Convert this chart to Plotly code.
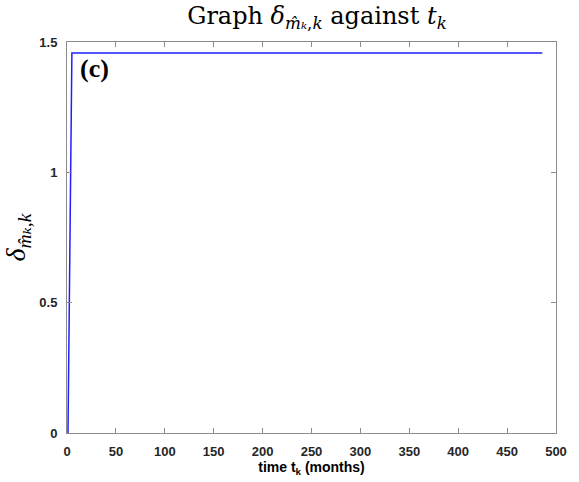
import plotly.graph_objects as go

# data
t_k = [1, 5, 486]
delta = [0.0, 1.458, 1.458]
x_ticks = [0, 50, 100, 150, 200, 250, 300, 350, 400, 450, 500]
y_ticks = [0, 0.5, 1, 1.5]
y_tick_labels = ["0", "0.5", "1", "1.5"]

fig = go.Figure()
fig.add_trace(go.Scatter(x=t_k, y=delta, mode="lines",
                         line=dict(color="#1f1fff", width=1.5),
                         showlegend=False, hoverinfo="skip"))

axis_common = dict(showgrid=False, zeroline=False, showline=True,
                   linecolor="#8c8c8c", linewidth=1, mirror="ticks",
                   ticks="inside", ticklen=5, tickcolor="#8c8c8c",
                   tickfont=dict(family="Liberation Sans, Arial", size=13, color="#262626",
                                 weight="bold"))

fig.update_layout(
    width=579, height=482,
    margin=dict(l=66, r=12, t=42, b=47),
    plot_bgcolor="white", paper_bgcolor="white",
    title=dict(text="Graph <i>δ</i><sub><i>m̂ₖ</i>,<i>k</i></sub> against <i>t<sub>k</sub></i>",
               x=317 / 579, xanchor="center", y=0.985, yanchor="top",
               font=dict(family="DejaVu Serif, Liberation Serif", size=24, color="black")),
    xaxis=dict(range=[0, 500], tickvals=x_ticks, ticklabelstandoff=6,
               title=dict(text="<b>time t<sub>k</sub> (months)</b>", standoff=2,
                          font=dict(family="Liberation Sans, Arial", size=14, color="black")),
               **axis_common),
    yaxis=dict(range=[0, 1.5], tickvals=y_ticks, ticktext=y_tick_labels, ticklabelstandoff=6,
               title=dict(text="<i>δ</i><sub><i>m̂ₖ</i>,<i>k</i></sub>", standoff=8,
                          font=dict(family="Liberation Serif, DejaVu Serif", size=28, color="black")),
               **axis_common),
    annotations=[dict(text="<b>(c)</b>", xref="paper", yref="paper", x=0.022, y=0.975,
                      xanchor="left", yanchor="top", showarrow=False,
                      font=dict(family="Liberation Serif, Times New Roman", size=26, color="black"))],
)

fig.write_html("out.html")
